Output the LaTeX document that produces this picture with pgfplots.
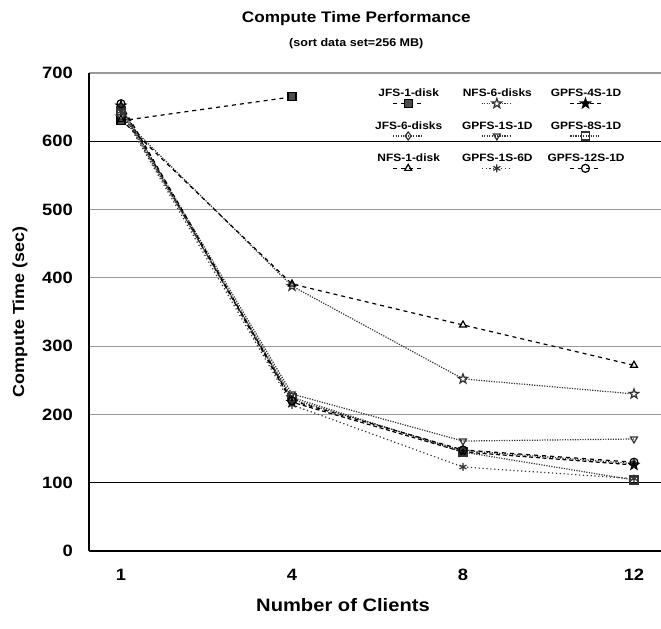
\documentclass[border=0pt]{standalone}
\usepackage{fontspec}
\setmainfont{Liberation Sans}[FakeStretch=1.12]
\usepackage{pgfplots}
\pgfplotsset{compat=1.18}
\usetikzlibrary{plotmarks}

% five-pointed star mark
\pgfdeclareplotmark{star5}{%
  \pgfpathmoveto{\pgfpointpolar{90}{1.25\pgfplotmarksize}}%
  \pgfpathlineto{\pgfpointpolar{126}{0.5\pgfplotmarksize}}%
  \pgfpathlineto{\pgfpointpolar{162}{1.25\pgfplotmarksize}}%
  \pgfpathlineto{\pgfpointpolar{198}{0.5\pgfplotmarksize}}%
  \pgfpathlineto{\pgfpointpolar{234}{1.25\pgfplotmarksize}}%
  \pgfpathlineto{\pgfpointpolar{270}{0.5\pgfplotmarksize}}%
  \pgfpathlineto{\pgfpointpolar{306}{1.25\pgfplotmarksize}}%
  \pgfpathlineto{\pgfpointpolar{342}{0.5\pgfplotmarksize}}%
  \pgfpathlineto{\pgfpointpolar{18}{1.25\pgfplotmarksize}}%
  \pgfpathlineto{\pgfpointpolar{54}{0.5\pgfplotmarksize}}%
  \pgfpathclose
  \pgfusepathqfillstroke
}

\begin{document}
\bfseries
\begin{tikzpicture}
\begin{axis}[
    scale only axis,
    width=429pt, height=358.5pt,
    xmin=-0.187, xmax=3.158,
    ymin=0, ymax=700,
    xtick={0,1,2,3}, xticklabels={1,4,8,12},
    ytick={0,100,...,700},
    axis x line=bottom, axis y line=left,
    axis line style={-, black, line width=1pt},
    major tick length=0pt,
    ymajorgrids,
    grid style={gray!80, line width=0.9pt},
    extra y ticks={100,600},
    extra y tick labels={},
    extra y tick style={grid style={black, line width=1pt}},
    tick label style={font=\fontsize{12.3}{14}\selectfont\bfseries},
    /pgf/number format/assume math mode=true,
    xticklabel style={anchor=center, yshift=-18pt},
    yticklabel style={anchor=east, xshift=-8.6pt},
    xlabel={Number of Clients},
    ylabel={Compute Time (sec)},
    xlabel style={font=\fontsize{13.5}{15}\selectfont\bfseries,
        at={(axis description cs:0.5,0)}, anchor=center, yshift=-40.5pt, xshift=-24pt},
    ylabel style={font=\fontsize{12}{14}\selectfont\bfseries,
        at={(axis description cs:0,0.5)}, anchor=center, yshift=51.75pt},
    title={\fontsize{11.5}{13}\selectfont Compute Time Performance\\[6pt]\fontsize{8.4}{9}\selectfont (sort data set=256 MB)},
    title style={at={(axis description cs:0.5,1)}, anchor=center, align=center,
        yshift=26.25pt, xshift=-14pt},
    every axis plot/.append style={line width=0.9pt, mark size=3pt},
    legend columns=3,
    legend style={draw=none, fill=none, at={(0.95,0.975)}, anchor=north east,
        font=\fontsize{8}{9.5}\selectfont\bfseries,
        nodes={text width=2.15cm, align=center, inner sep=1pt},
        row sep=15pt, column sep=0.5pt},
    legend image code/.code={
        \draw[mark repeat=2, mark phase=2, #1, overlay]
            plot coordinates {(0.78cm,-0.25cm) (1.18cm,-0.25cm) (1.58cm,-0.25cm)};
        \path (0,0) (0.05cm,0);
    },
]
% JFS-1-disk
\addplot[black, dashed, mark=square*, mark options={solid, fill=black!70}] coordinates {
    (0,630) (1,665)
};
\addlegendentry{JFS-1-disk}
% NFS-6-disks
\addplot[black!80, densely dotted, mark=star5, mark options={solid, fill=white}] coordinates {
    (0,636) (1,388) (2,252) (3,230)
};
\addlegendentry{NFS-6-disks}
% GPFS-4S-1D
\addplot[black, densely dashed, mark=star5, mark options={solid, fill=black}] coordinates {
    (0,652) (1,218) (2,145) (3,126)
};
\addlegendentry{GPFS-4S-1D}
% JFS-6-disks
\addplot[black!80, densely dotted, mark=diamond, mark options={solid, fill=white}] coordinates {
    (0,648) (1,222) (2,147) (3,128)
};
\addlegendentry{JFS-6-disks}
% GPFS-1S-1D
\addplot[black!80, densely dotted, mark=triangle, mark options={solid, rotate=180, fill=white}] coordinates {
    (0,650) (1,230) (2,161) (3,164)
};
\addlegendentry{GPFS-1S-1D}
% GPFS-8S-1D
\addplot[black!80, densely dotted, mark=square, mark options={solid, fill=black!30}] coordinates {
    (0,645) (1,225) (2,145) (3,104)
};
\addlegendentry{GPFS-8S-1D}
% NFS-1-disk
\addplot[black, dashed, mark=triangle, mark options={solid, fill=white}] coordinates {
    (0,632) (1,391) (2,331) (3,272)
};
\addlegendentry{NFS-1-disk}
% GPFS-1S-6D
\addplot[black!80, dotted, mark=asterisk, mark options={solid}] coordinates {
    (0,644) (1,214) (2,123) (3,106)
};
\addlegendentry{GPFS-1S-6D}
% GPFS-12S-1D
\addplot[black, dashed, mark=o, mark options={solid, fill=white}] coordinates {
    (0,655) (1,220) (2,148) (3,130)
};
\addlegendentry{GPFS-12S-1D}
\end{axis}
\pgfresetboundingbox
\path ([xshift=-66.75pt, yshift=-58.5pt]current axis.south west)
    rectangle ([yshift=54.75pt]current axis.north east);
\end{tikzpicture}
\end{document}
